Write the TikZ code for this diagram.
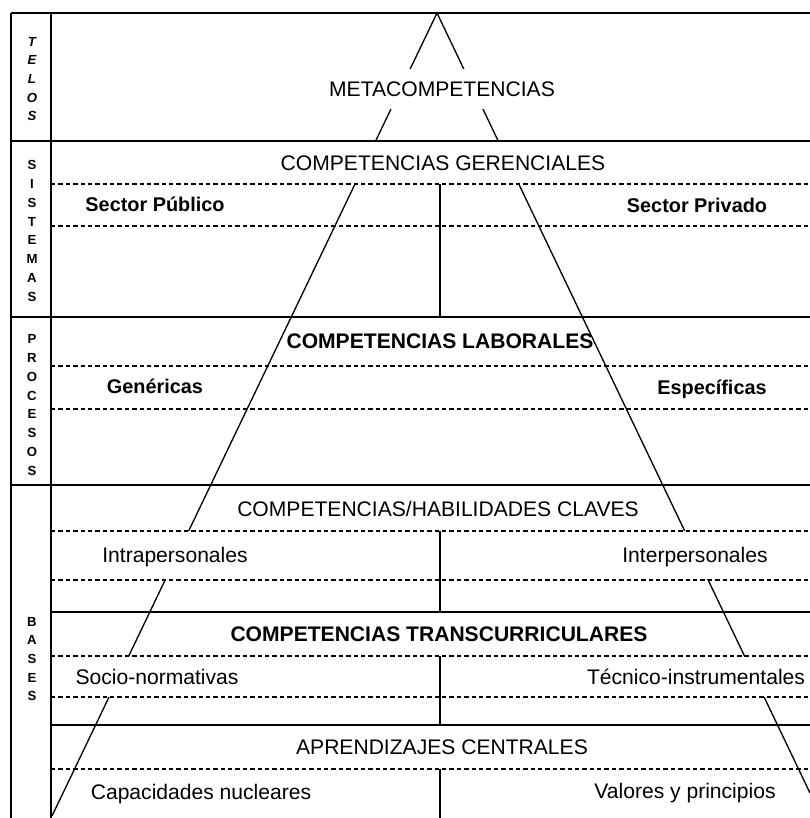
\documentclass[tikz,border=0pt]{standalone}
\usepackage{fontspec}
\setmainfont{Liberation Sans}
\usepackage{tikz}

\begin{document}
\begin{tikzpicture}[x=0.02cm,y=-0.02cm,
        lbl/.style={font=\fontsize{12}{14}\selectfont,inner sep=0pt,text height=8.6pt,text depth=0pt},
        blbl/.style={lbl,font=\fontsize{11.3}{14}\selectfont\bfseries},
        btitle/.style={lbl,font=\fontsize{12}{14}\selectfont\bfseries},
        cover/.style={lbl,fill=white,inner xsep=2pt},
        side/.style={font=\fontsize{7.5}{10.66}\selectfont\bfseries,align=center,inner sep=0pt},
        rule/.style={line width=0.6pt},
        sep/.style={line width=0.6pt,dash pattern=on 2.5pt off 1.7pt}]
    \useasboundingbox (0,0) rectangle (810,818);

    % pyramid
    \coordinate (apex) at (437,13);
    \coordinate (leftfoot) at (52,816);
    \coordinate (rightfoot) at (810,793);
    \draw [line width=0.75pt] (apex) -- (leftfoot) (apex) -- (rightfoot);

    % labels that hide the pyramid
    \node (meta) [cover,minimum height=0.8cm] at (442,89) {METACOMPETENCIAS};
    \node (geren) [cover,minimum height=0.84cm] at (443,163) {COMPETENCIAS GERENCIALES};
    \node (intra) [cover,minimum height=0.96cm] at (175,555) {Intrapersonales};
    \node (inter) [cover,minimum height=0.96cm] at (695,555) {Interpersonales};
    \node (socio) [cover,minimum height=0.8cm] at (157,677) {Socio-normativas};
    \node (tecnico) [cover,minimum height=0.8cm] at (696,677) {Técnico-instrumentales};

    % other labels
    \node (publico) [blbl] at (155,204) {Sector Público};
    \node (privado) [blbl] at (697,205) {Sector Privado};
    \node (laboral) [btitle] at (440,341) {COMPETENCIAS LABORALES};
    \node (generica) [blbl] at (155,386) {Genéricas};
    \node (especifica) [blbl] at (712,387) {Específicas};
    \node (claves) [lbl] at (438,509) {COMPETENCIAS/HABILIDADES CLAVES};
    \node (transcur) [btitle] at (439,634) {COMPETENCIAS TRANSCURRICULARES};
    \node (aprend) [lbl] at (442,747) {APRENDIZAJES CENTRALES};
    \node (nucleo) [lbl] at (201,792) {Capacidades nucleares};
    \node (valores) [lbl] at (685,791) {Valores y principios};

    % left column
    \node (telos) [side,font=\fontsize{7.5}{10.66}\selectfont\bfseries\itshape] at (32,79) {T\\E\\L\\O\\S};
    \node (sistemas) [side] at (32,231) {S\\I\\S\\T\\E\\M\\A\\S};
    \node (procesos) [side] at (32,405) {P\\R\\O\\C\\E\\S\\O\\S};
    \node (bases) [side] at (32,659) {B\\A\\S\\E\\S};

    % frame
    \draw [line width=0.8pt] (11,13) -- (810,13);
    \draw [rule] (11,13) -- (11,818);
    \draw [line width=1.4pt] (51,13) -- (51,818);
    \draw [rule] (11,141) -- (810,141);
    \draw [rule] (11,317) -- (810,317);
    \draw [rule] (11,485) -- (810,485);
    \draw [rule] (51,612) -- (810,612);
    \draw [rule] (51,725) -- (810,725);
    \foreach \y in {184,226,366,409,531,580,656,697,769}
        \draw [sep] (51,\y) -- (810,\y);

    % middle split
    \draw [rule] (440,184) -- (440,317);
    \draw [rule] (440,531) -- (440,612);
    \draw [rule] (440,656) -- (440,725);
    \draw [rule] (440,769) -- (440,818);
\end{tikzpicture}
\end{document}
